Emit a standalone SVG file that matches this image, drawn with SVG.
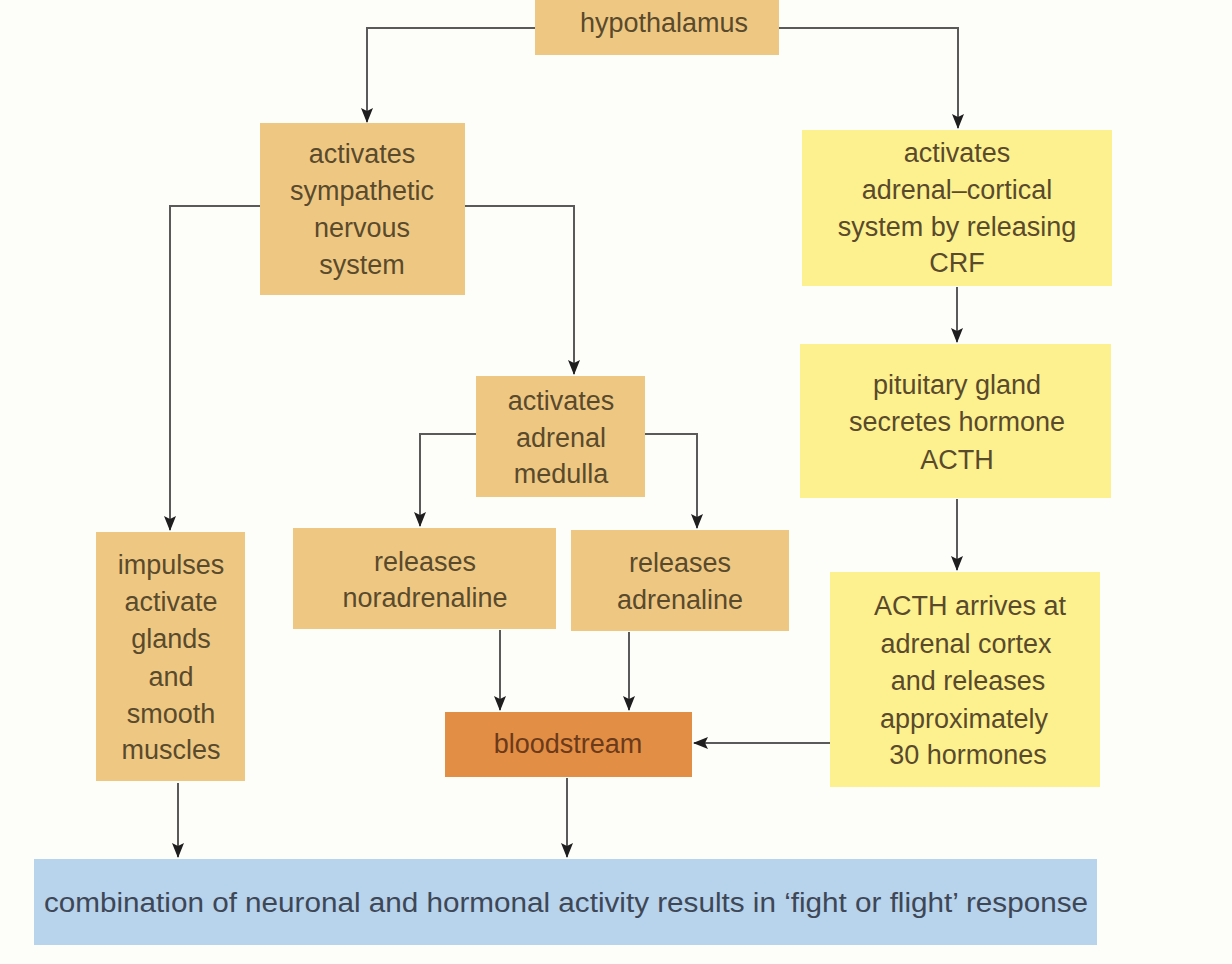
<svg xmlns="http://www.w3.org/2000/svg" width="1232" height="964" viewBox="0 0 1232 964">
<defs>
<marker id="arr" markerWidth="15" markerHeight="12" refX="14" refY="6" orient="auto" markerUnits="userSpaceOnUse">
<path d="M0,0 L15,6 L0,12 L3,6 Z" fill="#1e1e1e"/>
</marker>
</defs>
<style>
.tan{fill:#EEC883}
.yel{fill:#FDF18F}
.blood{fill:#E38E45}
.blue{fill:#B8D3EC}
text{font-family:"Liberation Sans",Arial,sans-serif;font-size:27px;fill:#5a4a2c;text-anchor:middle}
.bt{fill:#3e4756}
.bl{fill:#6b3a1a}
.c{fill:none;stroke:#5a5a5a;stroke-width:2;marker-end:url(#arr)}
</style>
<rect width="1232" height="964" fill="#FDFDFA"/>
<g id="connectors">
<path class="c" d="M535,28 H367 V122"/>
<path class="c" d="M779,28 H958 V128"/>
<path class="c" d="M260,206 H170 V530"/>
<path class="c" d="M465,206 H574 V374"/>
<path class="c" d="M476,434 H420 V526"/>
<path class="c" d="M645,434 H697 V528"/>
<path class="c" d="M500,630 V710"/>
<path class="c" d="M629,632 V710"/>
<path class="c" d="M957,287 V342"/>
<path class="c" d="M957,499 V570"/>
<path class="c" d="M830,743 H694"/>
<path class="c" d="M178,783 V857"/>
<path class="c" d="M567,778 V857"/>
</g>
<g id="hypothalamus">
<rect class="tan" x="535" y="0" width="244" height="55"/>
<text x="664" y="32">hypothalamus</text>
</g>
<g id="sympathetic">
<rect class="tan" x="260" y="123" width="205" height="172"/>
<text x="362" y="163">activates</text>
<text x="362" y="200">sympathetic</text>
<text x="362" y="237">nervous</text>
<text x="362" y="274">system</text>
</g>
<g id="adrenal-cortical">
<rect class="yel" x="802" y="130" width="310" height="156"/>
<text x="957" y="162">activates</text>
<text x="957" y="199">adrenal–cortical</text>
<text x="957" y="236">system by releasing</text>
<text x="957" y="272">CRF</text>
</g>
<g id="pituitary">
<rect class="yel" x="800" y="344" width="311" height="154"/>
<text x="957" y="394">pituitary gland</text>
<text x="957" y="431">secretes hormone</text>
<text x="957" y="469">ACTH</text>
</g>
<g id="acth-arrives">
<rect class="yel" x="830" y="572" width="270" height="215"/>
<text x="970" y="615">ACTH arrives at</text>
<text x="966" y="653">adrenal cortex</text>
<text x="968" y="690">and releases</text>
<text x="964" y="728">approximately</text>
<text x="968" y="764">30 hormones</text>
</g>
<g id="adrenal-medulla">
<rect class="tan" x="476" y="376" width="169" height="121"/>
<text x="561" y="410">activates</text>
<text x="561" y="447">adrenal</text>
<text x="561" y="483">medulla</text>
</g>
<g id="noradrenaline">
<rect class="tan" x="293" y="528" width="263" height="101"/>
<text x="425" y="571">releases</text>
<text x="425" y="607">noradrenaline</text>
</g>
<g id="adrenaline">
<rect class="tan" x="571" y="530" width="218" height="101"/>
<text x="680" y="572">releases</text>
<text x="680" y="609">adrenaline</text>
</g>
<g id="impulses">
<rect class="tan" x="96" y="532" width="149" height="249"/>
<text x="171" y="574">impulses</text>
<text x="171" y="611">activate</text>
<text x="171" y="648">glands</text>
<text x="171" y="686">and</text>
<text x="171" y="723">smooth</text>
<text x="171" y="759">muscles</text>
</g>
<g id="bloodstream">
<rect class="blood" x="445" y="712" width="247" height="65"/>
<text class="bl" x="568" y="753">bloodstream</text>
</g>
<g id="response">
<rect class="blue" x="34" y="859" width="1063" height="86"/>
<text class="bt" x="566" y="912" textLength="1044" lengthAdjust="spacingAndGlyphs">combination of neuronal and hormonal activity results in ‘fight or flight’ response</text>
</g>
</svg>
